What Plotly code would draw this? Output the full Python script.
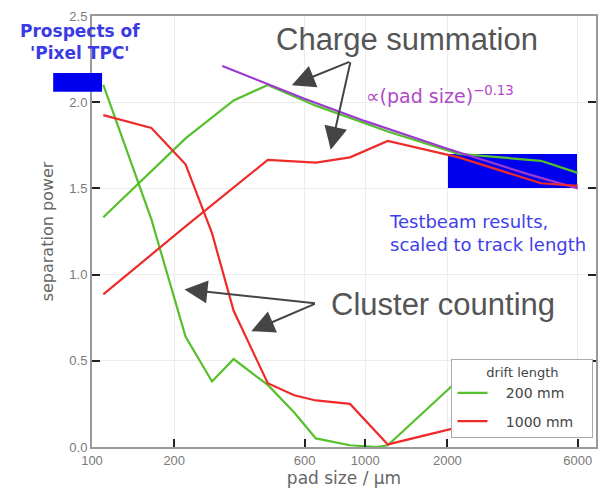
import numpy as np
import plotly.graph_objects as go

# pad sizes (µm) and separation power for each method / drift length
cc_pad_200 = [110, 165, 220, 275, 330, 440, 550, 660, 880, 1100, 1210, 2200]
cc_sep_200 = [2.10, 1.32, 0.64, 0.38, 0.51, 0.36, 0.20, 0.05, 0.01, 0.0, 0.01, 0.39]

cc_pad_1000 = [110, 165, 220, 275, 330, 440, 550, 660, 880, 1210, 2200]
cc_sep_1000 = [1.925, 1.85, 1.64, 1.24, 0.79, 0.37, 0.30, 0.27, 0.25, 0.015, 0.115]

cs_pad_200 = [110, 220, 330, 440, 660, 880, 1210, 2200, 3300, 4400, 6000]
cs_sep_200 = [1.333, 1.79, 2.01, 2.10, 1.98, 1.91, 1.83, 1.70, 1.675, 1.66, 1.59]

cs_pad_1000 = [110, 220, 440, 660, 880, 1210, 2200, 4400, 6000]
cs_sep_1000 = [0.885, 1.28, 1.665, 1.65, 1.68, 1.775, 1.68, 1.53, 1.515]

# power-law fit, proportional to (pad size)^-0.13
fit_pad = [300, 450, 600, 1000, 2000, 4000, 6000]
fit_sep = [2.21, 2.10, 2.02, 1.89, 1.73, 1.58, 1.50]

# test-beam band and pixel-TPC prospect band
testbeam_pad = [2000, 6000]
testbeam_sep = [1.50, 1.70]
pixel_sep = [2.06, 2.17]

x_ticks = [100, 200, 600, 1000, 2000, 6000]
y_ticks = [0.0, 0.5, 1.0, 1.5, 2.0, 2.5]

GREEN = "#55c02c"
RED = "#ee2b2b"
PURPLE = "#9a3ad0"
BLUE = "#0000ee"

# padding around legend labels
LEAD = "\u00a0" * 3
TRAIL = "\u00a0" * 3

fig = go.Figure()

fig.add_trace(go.Scatter(x=cs_pad_200, y=cs_sep_200, mode="lines",
                         line=dict(color=GREEN, width=2.2),
                         name=LEAD + "200 mm" + TRAIL,
                         legendgroup="200", showlegend=True))
fig.add_trace(go.Scatter(x=cc_pad_200, y=cc_sep_200, mode="lines",
                         line=dict(color=GREEN, width=2.2),
                         name=LEAD + "200 mm" + TRAIL,
                         legendgroup="200", showlegend=False))
fig.add_trace(go.Scatter(x=fit_pad, y=fit_sep, mode="lines",
                         line=dict(color=PURPLE, width=2.2), showlegend=False))
fig.add_trace(go.Scatter(x=cs_pad_1000, y=cs_sep_1000, mode="lines",
                         line=dict(color=RED, width=2.2),
                         name=LEAD + "1000 mm" + TRAIL,
                         legendgroup="1000", showlegend=True))
fig.add_trace(go.Scatter(x=cc_pad_1000, y=cc_sep_1000, mode="lines",
                         line=dict(color=RED, width=2.2),
                         name=LEAD + "1000 mm" + TRAIL,
                         legendgroup="1000", showlegend=False))

fig.add_shape(type="rect", xref="x", yref="y",
              x0=testbeam_pad[0], x1=testbeam_pad[1],
              y0=testbeam_sep[0], y1=testbeam_sep[1],
              fillcolor=BLUE, line=dict(width=0), layer="below")
fig.add_shape(type="rect", xref="paper", yref="y",
              x0=-0.077, x1=0.02, y0=pixel_sep[0], y1=pixel_sep[1],
              fillcolor=BLUE, line=dict(width=0), layer="above")

ARROW = "#454545"


def arrow(tip_x, tip_y, ax, ay):
    fig.add_annotation(x=np.log10(tip_x), y=tip_y, xref="x", yref="y",
                       ax=ax, ay=ay, text="", showarrow=True,
                       arrowhead=2, arrowsize=2.3, arrowwidth=2,
                       arrowcolor=ARROW)


# arrows pointing from the labels to the curves
arrow(539, 2.098, 59, -24)
arrow(748, 1.724, 20, -89)
arrow(218, 0.914, 132, 14)
arrow(383, 0.672, 65, -28)


def label(x, y, text, font, xanchor="center", align="center", **kw):
    fig.add_annotation(x=x, y=y, text=text, showarrow=False,
                       xanchor=xanchor, yanchor="middle", align=align,
                       font=font, **kw)


label(0.6245, 0.945, "Charge summation",
      dict(family="Liberation Sans", size=31, color="#555555"),
      xref="paper", yref="paper")
label(0.6957, 0.331, "Cluster counting",
      dict(family="Liberation Sans", size=31, color="#555555"),
      xref="paper", yref="paper")
label(np.log10(988), 2.04, "∝(pad size)<sup>−0.13</sup>",
      dict(family="DejaVu Sans", size=19, color="#b048c8"),
      xanchor="left", xref="x", yref="y")
label(-0.0237, 0.939, "<b>Prospects of<br>'Pixel TPC'</b>",
      dict(family="DejaVu Sans", size=17, color="#3b3be6"),
      xref="paper", yref="paper")
label(0.585, 0.4966, "Testbeam results,<br>scaled to track length",
      dict(family="DejaVu Sans", size=18, color="#4040ea"),
      xanchor="left", align="left", xref="paper", yref="paper")

axis_common = dict(
    showline=True, linecolor="#9a9a9a", linewidth=2,
    ticks="inside", ticklen=8, tickwidth=2, tickcolor="#222222",
    showgrid=True, gridcolor="#ececec", gridwidth=1,
    tickfont=dict(family="Liberation Sans", size=13, color="#7a7a7a"),
    zeroline=False,
)

fig.update_xaxes(type="log", range=[2, np.log10(7000)],
                 tickvals=x_ticks, ticktext=[str(v) for v in x_ticks],
                 mirror=True,
                 title=dict(text="pad size / µm", standoff=6,
                            font=dict(family="DejaVu Sans", size=17, color="#666666")),
                 **axis_common)
fig.update_yaxes(range=[0, 2.5], tickvals=y_ticks, tickformat=".1f",
                 mirror="ticks",
                 title=dict(text="separation power", standoff=12,
                            font=dict(family="DejaVu Sans", size=16, color="#666666")),
                 **axis_common)

fig.update_layout(
    width=607, height=496,
    margin=dict(l=92, r=9, t=12, b=49),
    paper_bgcolor="white", plot_bgcolor="white",
    legend=dict(x=0.995, y=0.02, xanchor="right", yanchor="bottom",
                bgcolor="white", bordercolor="#aaaaaa", borderwidth=1,
                font=dict(family="DejaVu Sans", size=14, color="#444444"),
                title=dict(text="drift length", side="top center",
                           font=dict(family="DejaVu Sans", size=13, color="#444444")),
                itemwidth=30, tracegroupgap=7),
)

fig.write_html("out.html")
